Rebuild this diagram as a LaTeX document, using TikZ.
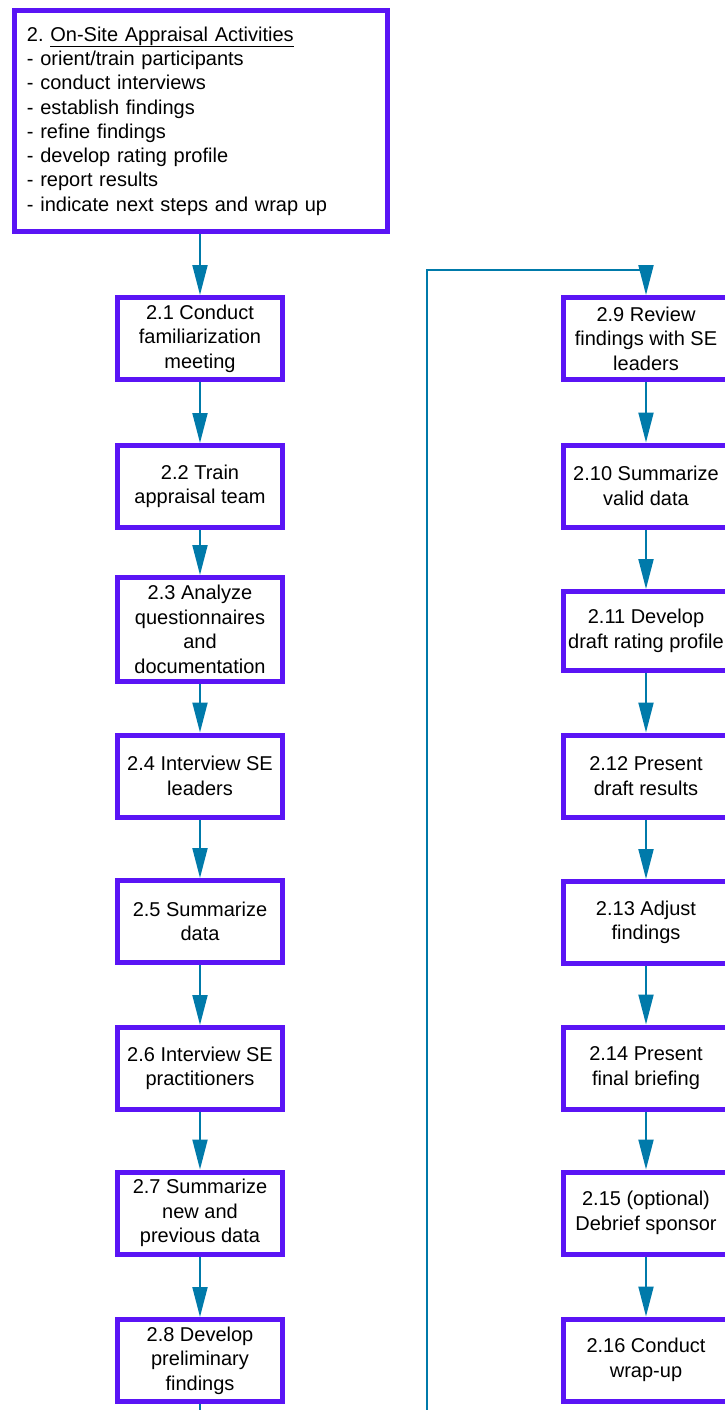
\documentclass[tikz,border=0pt]{standalone}
\usepackage{fontspec}
\setmainfont{Liberation Sans}
\usetikzlibrary{arrows.meta}
\definecolor{boxviolet}{RGB}{90,20,245}
\definecolor{flowteal}{RGB}{0,122,170}

\begin{document}
\begin{tikzpicture}[x=1pt,y=1pt,>={Triangle[length=30pt,width=15pt]},
  stepbox/.style={draw=boxviolet,line width=5pt,fill=white,
    minimum width=165pt,minimum height=82pt,align=center,inner sep=2pt,
    font=\fontsize{20}{24.5}\selectfont},
  flow/.style={->,color=flowteal,line width=2pt}]

  \useasboundingbox (0,0) rectangle (725,-1410);

  %--- Overview box (phase 2) ---
  \node[draw=boxviolet,line width=5pt,minimum width=373pt,minimum height=221pt,
        text width=348pt,align=left,inner xsep=12.5pt,
        font=\fontsize{20}{24.3}\selectfont] (s2) at (201,-121)
    {2.\ \underline{On-Site Appraisal Activities}\\
     - orient/train participants\\
     - conduct interviews\\
     - establish findings\\
     - refine findings\\
     - develop rating profile\\
     - report results\\
     - indicate next steps and wrap up};

  %--- Left column: steps 2.1 to 2.8 ---
  \node[stepbox] (s21) at (200,-338.5) {2.1 Conduct\\familiarization\\meeting};
  \node[stepbox] (s22) at (200,-486.5) {2.2 Train\\appraisal team};
  \node[stepbox,minimum height=104pt] (s23) at (200,-629.5)
    {2.3 Analyze\\questionnaires\\and\\documentation};
  \node[stepbox] (s24) at (200,-776) {2.4 Interview SE\\leaders};
  \node[stepbox] (s25) at (200,-921.5) {2.5 Summarize\\data};
  \node[stepbox] (s26) at (200,-1068.5) {2.6 Interview SE\\practitioners};
  \node[stepbox] (s27) at (200,-1213) {2.7 Summarize\\new and\\previous data};
  \node[stepbox] (s28) at (200,-1360.5) {2.8 Develop\\preliminary\\findings};

  %--- Right column: steps 2.9 to 2.16 ---
  \node[stepbox] (s29) at (646,-338.5) {2.9 Review\\findings with SE\\leaders};
  \node[stepbox] (s210) at (646,-486) {2.10 Summarize\\valid data};
  \node[stepbox,minimum height=79pt] (s211) at (646,-631) {2.11 Develop\\draft rating profile};
  \node[stepbox] (s212) at (646,-776) {2.12 Present\\draft results};
  \node[stepbox] (s213) at (646,-922.5) {2.13 Adjust\\findings};
  \node[stepbox] (s214) at (646,-1068) {2.14 Present\\final briefing};
  \node[stepbox] (s215) at (646,-1213) {2.15 (optional)\\Debrief sponsor};
  \node[stepbox] (s216) at (646,-1360) {2.16 Conduct\\wrap-up};

  %--- Flow down the left column ---
  \draw[flow] (s21.north |- s2.south) -- (s21.north);
  \draw[flow] (s21.south) -- (s22.north);
  \draw[flow] (s22.south) -- (s23.north);
  \draw[flow] (s23.south) -- (s24.north);
  \draw[flow] (s24.south) -- (s25.north);
  \draw[flow] (s25.south) -- (s26.north);
  \draw[flow] (s26.south) -- (s27.north);
  \draw[flow] (s27.south) -- (s28.north);

  %--- Return path from 2.8 up to 2.9 (runs below the page) ---
  \coordinate (loopbot) at (427,-1440);
  \coordinate (looptop) at (427,-270);
  \draw[flow] (s28.south) |- (loopbot) -- (looptop) -| (s29.north);

  %--- Flow down the right column ---
  \draw[flow] (s29.south) -- (s210.north);
  \draw[flow] (s210.south) -- (s211.north);
  \draw[flow] (s211.south) -- (s212.north);
  \draw[flow] (s212.south) -- (s213.north);
  \draw[flow] (s213.south) -- (s214.north);
  \draw[flow] (s214.south) -- (s215.north);
  \draw[flow] (s215.south) -- (s216.north);

\end{tikzpicture}
\end{document}
